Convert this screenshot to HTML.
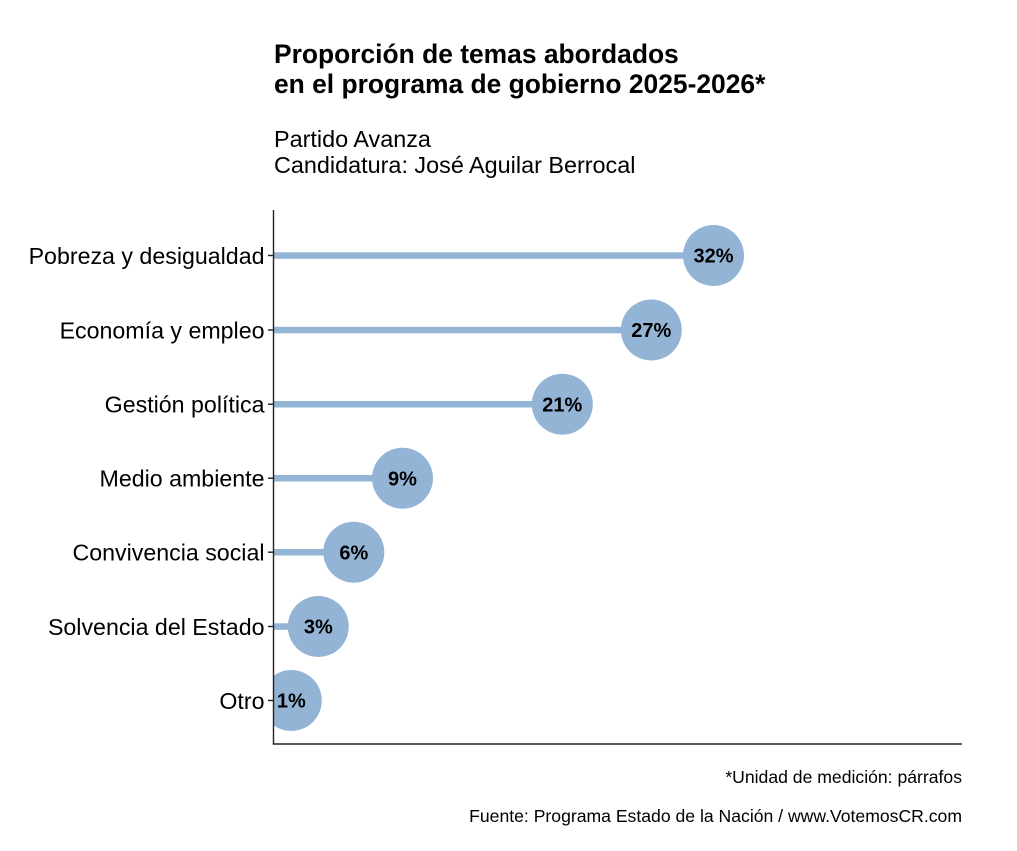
<!DOCTYPE html>
<html>
<head>
<meta charset="utf-8">
<style>
html,body{margin:0;padding:0;background:#fff;}
svg{display:block;}
text{font-family:"Liberation Sans",Arial,sans-serif;}
</style>
</head>
<body>
<svg width="1017" height="851" viewBox="0 0 1017 851" xmlns="http://www.w3.org/2000/svg">
<defs>
<clipPath id="panel"><rect x="273.5" y="200" width="700" height="544"/></clipPath>
</defs>
<rect width="1017" height="851" fill="#fff"/>

<!-- Title -->
<text x="274" y="63" font-size="26.4" font-weight="bold" fill="#000">Proporción de temas abordados</text>
<text x="274" y="93" font-size="26.4" font-weight="bold" fill="#000">en el programa de gobierno 2025-2026*</text>

<!-- Subtitle -->
<text x="274" y="147" font-size="23.4" fill="#000">Partido Avanza</text>
<text x="274" y="173" font-size="23.4" fill="#000">Candidatura: José Aguilar Berrocal</text>

<!-- Lollipops -->
<g clip-path="url(#panel)" fill="#93b4d5" stroke="none">
  <rect x="273.5" y="252.3" width="440" height="6.5"/>
  <circle cx="713.5" cy="255.5" r="30.5"/>
  <rect x="273.5" y="326.8" width="378" height="6.5"/>
  <circle cx="651.3" cy="330" r="30.5"/>
  <rect x="273.5" y="401" width="289" height="6.5"/>
  <circle cx="562.3" cy="404.2" r="30.5"/>
  <rect x="273.5" y="475" width="129" height="6.5"/>
  <circle cx="402.5" cy="478.2" r="30.5"/>
  <rect x="273.5" y="549" width="80" height="6.5"/>
  <circle cx="353.8" cy="552.2" r="30.5"/>
  <rect x="273.5" y="623.3" width="45" height="6.5"/>
  <circle cx="318.3" cy="626.5" r="30.5"/>
  <rect x="273.5" y="697.3" width="18" height="6.5"/>
  <circle cx="291.3" cy="700.5" r="30.5"/>
</g>

<!-- Value labels -->
<g font-size="20" font-weight="bold" fill="#000" text-anchor="middle">
  <text x="713.5" y="262.7">32%</text>
  <text x="651.3" y="337.2">27%</text>
  <text x="562.3" y="411.4">21%</text>
  <text x="402.5" y="485.4">9%</text>
  <text x="353.8" y="559.4">6%</text>
  <text x="318.3" y="633.7">3%</text>
  <text x="291.3" y="707.7">1%</text>
</g>

<!-- Axes -->
<g stroke="#222" stroke-width="1.4" fill="none">
  <line x1="273.5" y1="210" x2="273.5" y2="744.5"/>
  <line x1="272.8" y1="744" x2="962" y2="744"/>
  <line x1="268" y1="255.5" x2="273.5" y2="255.5"/>
  <line x1="268" y1="330" x2="273.5" y2="330"/>
  <line x1="268" y1="404.2" x2="273.5" y2="404.2"/>
  <line x1="268" y1="478.2" x2="273.5" y2="478.2"/>
  <line x1="268" y1="552.2" x2="273.5" y2="552.2"/>
  <line x1="268" y1="626.5" x2="273.5" y2="626.5"/>
  <line x1="268" y1="700.5" x2="273.5" y2="700.5"/>
</g>

<!-- Category labels -->
<g font-size="23.2" fill="#000" text-anchor="end">
  <text x="264.5" y="263.8">Pobreza y desigualdad</text>
  <text x="264.5" y="338.3">Economía y empleo</text>
  <text x="264.5" y="412.5">Gestión política</text>
  <text x="264.5" y="486.5">Medio ambiente</text>
  <text x="264.5" y="560.5">Convivencia social</text>
  <text x="264.5" y="634.8">Solvencia del Estado</text>
  <text x="264.5" y="708.8">Otro</text>
</g>

<!-- Captions -->
<g font-size="17.6" fill="#000" text-anchor="end">
  <text x="962" y="783">*Unidad de medición: párrafos</text>
  <text x="962" y="822">Fuente: Programa Estado de la Nación / www.VotemosCR.com</text>
</g>
</svg>
</body>
</html>
